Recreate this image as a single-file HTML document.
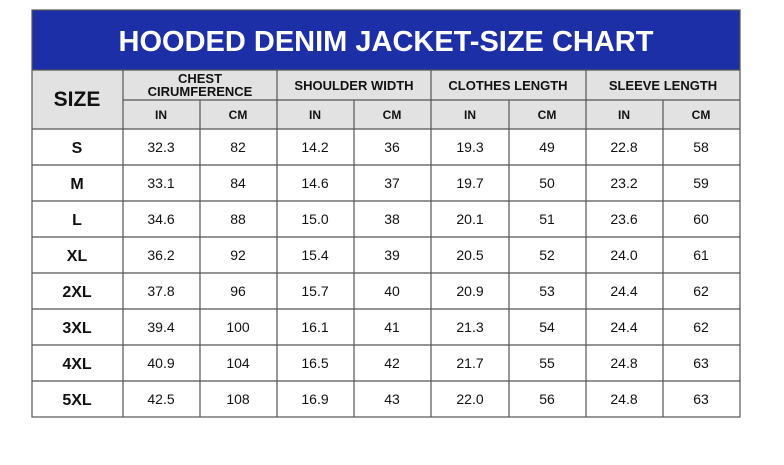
<!DOCTYPE html>
<html><head><meta charset="utf-8"><style>
body{margin:0;background:#fff;width:784px;height:465px;overflow:hidden}
svg{display:block}
text{font-family:"Liberation Sans",Arial,sans-serif;text-anchor:middle;fill:#111}
</style></head><body>
<svg width="784" height="465" viewBox="0 0 784 465">
<rect x="32" y="10" width="708" height="60" fill="#1c2fa6"/>
<text x="386" y="51" font-size="29" font-weight="bold" fill="#fff" style="fill:#fff">HOODED DENIM JACKET-SIZE CHART</text>
<rect x="32" y="70" width="708" height="59" fill="#e2e2e2"/>
<rect x="32" y="129" width="708" height="288" fill="#fff"/>
<g stroke="#555" stroke-width="1.2" fill="none">
<rect x="32" y="10" width="708" height="407"/>
<line x1="32" y1="70" x2="740" y2="70"/>
<line x1="123" y1="100" x2="740" y2="100"/>
<line x1="32" y1="129" x2="740" y2="129"/>
<line x1="32" y1="165" x2="740" y2="165"/>
<line x1="32" y1="201" x2="740" y2="201"/>
<line x1="32" y1="237" x2="740" y2="237"/>
<line x1="32" y1="273" x2="740" y2="273"/>
<line x1="32" y1="309" x2="740" y2="309"/>
<line x1="32" y1="345" x2="740" y2="345"/>
<line x1="32" y1="381" x2="740" y2="381"/>
<line x1="123" y1="70" x2="123" y2="417"/>
<line x1="277" y1="70" x2="277" y2="417"/>
<line x1="431" y1="70" x2="431" y2="417"/>
<line x1="586" y1="70" x2="586" y2="417"/>
<line x1="200" y1="100" x2="200" y2="417"/>
<line x1="354" y1="100" x2="354" y2="417"/>
<line x1="509" y1="100" x2="509" y2="417"/>
<line x1="663" y1="100" x2="663" y2="417"/>
</g>
<text x="77" y="106" font-size="21" font-weight="bold">SIZE</text>
<g font-size="13">
<text x="200" y="83" font-weight="bold">CHEST</text>
<text x="200" y="96" font-weight="bold">CIRUMFERENCE</text>
<text x="354" y="90" font-weight="bold">SHOULDER WIDTH</text>
<text x="508" y="90" font-weight="bold">CLOTHES LENGTH</text>
<text x="663" y="90" font-weight="bold">SLEEVE LENGTH</text>
</g>
<g font-size="12" font-weight="bold">
<text x="161" y="119">IN</text><text x="238" y="119">CM</text>
<text x="315" y="119">IN</text><text x="392" y="119">CM</text>
<text x="470" y="119">IN</text><text x="547" y="119">CM</text>
<text x="624" y="119">IN</text><text x="701" y="119">CM</text>
</g>
<g font-size="16" font-weight="bold">
<text x="77" y="153">S</text><text x="77" y="189">M</text><text x="77" y="225">L</text><text x="77" y="261">XL</text>
<text x="77" y="297">2XL</text><text x="77" y="333">3XL</text><text x="77" y="369">4XL</text><text x="77" y="405">5XL</text>
</g>
<g font-size="14">
<text x="161" y="152">32.3</text><text x="238" y="152">82</text><text x="315" y="152">14.2</text><text x="392" y="152">36</text><text x="470" y="152">19.3</text><text x="547" y="152">49</text><text x="624" y="152">22.8</text><text x="701" y="152">58</text>
<text x="161" y="188">33.1</text><text x="238" y="188">84</text><text x="315" y="188">14.6</text><text x="392" y="188">37</text><text x="470" y="188">19.7</text><text x="547" y="188">50</text><text x="624" y="188">23.2</text><text x="701" y="188">59</text>
<text x="161" y="224">34.6</text><text x="238" y="224">88</text><text x="315" y="224">15.0</text><text x="392" y="224">38</text><text x="470" y="224">20.1</text><text x="547" y="224">51</text><text x="624" y="224">23.6</text><text x="701" y="224">60</text>
<text x="161" y="260">36.2</text><text x="238" y="260">92</text><text x="315" y="260">15.4</text><text x="392" y="260">39</text><text x="470" y="260">20.5</text><text x="547" y="260">52</text><text x="624" y="260">24.0</text><text x="701" y="260">61</text>
<text x="161" y="296">37.8</text><text x="238" y="296">96</text><text x="315" y="296">15.7</text><text x="392" y="296">40</text><text x="470" y="296">20.9</text><text x="547" y="296">53</text><text x="624" y="296">24.4</text><text x="701" y="296">62</text>
<text x="161" y="332">39.4</text><text x="238" y="332">100</text><text x="315" y="332">16.1</text><text x="392" y="332">41</text><text x="470" y="332">21.3</text><text x="547" y="332">54</text><text x="624" y="332">24.4</text><text x="701" y="332">62</text>
<text x="161" y="368">40.9</text><text x="238" y="368">104</text><text x="315" y="368">16.5</text><text x="392" y="368">42</text><text x="470" y="368">21.7</text><text x="547" y="368">55</text><text x="624" y="368">24.8</text><text x="701" y="368">63</text>
<text x="161" y="404">42.5</text><text x="238" y="404">108</text><text x="315" y="404">16.9</text><text x="392" y="404">43</text><text x="470" y="404">22.0</text><text x="547" y="404">56</text><text x="624" y="404">24.8</text><text x="701" y="404">63</text>
</g>
</svg>
</body></html>
